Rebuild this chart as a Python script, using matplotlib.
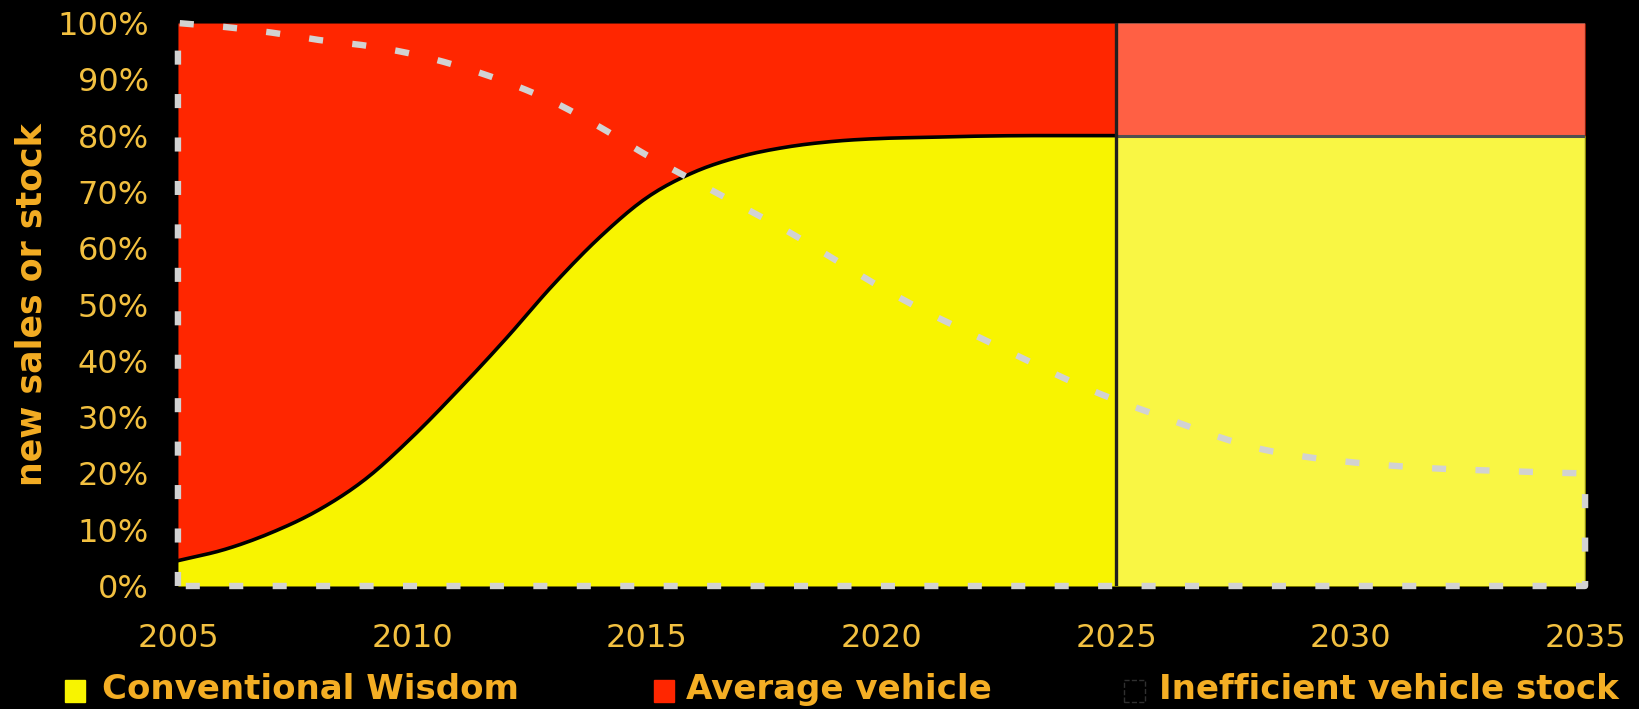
import matplotlib
matplotlib.use("Agg")
import matplotlib.pyplot as plt
from matplotlib.patches import Rectangle
import numpy as np

# Years on the horizontal axis
years = [2005, 2006, 2007, 2008, 2009, 2010, 2011, 2012, 2013, 2014, 2015,
         2016, 2017, 2018, 2019, 2020, 2021, 2022, 2023, 2024, 2025,
         2026, 2027, 2028, 2029, 2030, 2031, 2032, 2033, 2034, 2035]

# Share of new sales that follow conventional wisdom (%)
conventional = [4.5, 6.5, 9.5, 13.5, 19.0, 26.5, 35.0, 44.0, 53.5, 62.0, 69.0,
                73.5, 76.3, 78.0, 79.0, 79.5, 79.7, 79.9, 80.0, 80.0, 80.0,
                80.0, 80.0, 80.0, 80.0, 80.0, 80.0, 80.0, 80.0, 80.0, 80.0]

# Share of the fleet that is still inefficient stock (%)
inefficient = [100.0, 99.3, 98.3, 97.0, 96.0, 94.5, 92.3, 89.5, 86.0, 81.5, 76.5,
               72.0, 67.5, 63.0, 58.0, 53.0, 48.5, 44.5, 40.5, 36.5, 33.0,
               30.0, 27.0, 24.5, 23.0, 22.0, 21.3, 20.8, 20.5, 20.2, 20.0]

y_ticks = [0, 10, 20, 30, 40, 50, 60, 70, 80, 90, 100]
x_ticks = [2005, 2010, 2015, 2020, 2025, 2030, 2035]
legend_labels = ["Conventional Wisdom", "Average vehicle", "Inefficient vehicle stock"]
split_year = 2025

RED = "#FF2600"
YELLOW = "#F8F400"
GREY = "#D2D2D2"
TICK_COLOR = "#F2C040"
LABEL_COLOR = "#F4AE24"


def smooth(x, y, steps=12):
    """Catmull-Rom path through the given points (for a smoothed line)."""
    x = np.asarray(x, float)
    y = np.asarray(y, float)
    px = np.concatenate([[2 * x[0] - x[1]], x, [2 * x[-1] - x[-2]]])
    py = np.concatenate([[2 * y[0] - y[1]], y, [2 * y[-1] - y[-2]]])
    t = np.linspace(0, 1, steps, endpoint=False)[:, None]
    t2, t3 = t * t, t * t * t
    out = []
    for arr in (px, py):
        p0, p1, p2, p3 = arr[:-3], arr[1:-2], arr[2:-1], arr[3:]
        seg = 0.5 * ((2 * p1) + (-p0 + p2) * t + (2 * p0 - 5 * p1 + 4 * p2 - p3) * t2
                     + (-p0 + 3 * p1 - 3 * p2 + p3) * t3)
        out.append(np.concatenate([seg.T.ravel(), arr[-2:-1]]))
    return out[0], out[1]


yrs = np.array(years, dtype=float)
conv = np.array(conventional)
ineff = np.array(inefficient)
sx, sconv = smooth(yrs, conv)
_, sineff = smooth(yrs, ineff)
sconv = np.clip(sconv, 0, 100)

fig = plt.figure(figsize=(16.4, 7.09), dpi=100, facecolor="black")
ax = fig.add_axes([0.1085, 0.1735, 0.858, 0.794])
ax.set_facecolor("black")

# Stacked shares: conventional wisdom below, average vehicle up to 100 %
ax.fill_between(sx, 0, sconv, color=YELLOW, lw=0, zorder=1)
ax.fill_between(sx, sconv, 100, color=RED, lw=0, zorder=1)

# Lighter projection period after the split year
ax.axvspan(split_year, yrs[-1], color="white", alpha=0.27, lw=0, zorder=2)

past = sx <= split_year
fut = sx >= split_year
ax.plot(sx[past], sconv[past], color="black", lw=2.6, zorder=3)
ax.plot(sx[fut], sconv[fut], color="#505050", lw=2.2, zorder=3)
ax.plot([split_year, split_year], [0, 100], color="#202020", lw=2.4, zorder=3)
ax.plot([yrs[-1], yrs[-1]], [0, 100], color="#606060", lw=1.0, zorder=3)

# Inefficient stock outline: a closed dashed boundary without fill
outline_x = np.concatenate([[yrs[0]], sx, [yrs[-1], yrs[0]]])
outline_y = np.concatenate([[0], sineff, [0, 0]])
ax.plot(outline_x, outline_y, color=GREY, lw=4.6, dashes=(2.2, 4.6),
        solid_capstyle="butt", dash_capstyle="butt", zorder=4, clip_on=False)

ax.set_xlim(yrs[0], yrs[-1])
ax.set_ylim(0, 100)
ax.set_xticks(x_ticks)
ax.set_yticks(y_ticks)
ax.set_yticklabels([f"{v}%" for v in y_ticks])
ax.tick_params(axis="both", length=0, colors=TICK_COLOR, labelsize=23)
ax.tick_params(axis="y", pad=21)
ax.tick_params(axis="x", pad=27)
for s in ax.spines.values():
    s.set_visible(False)

fig.text(0.019, 0.57, "new sales or stock", rotation=90, ha="center", va="center",
         color=LABEL_COLOR, fontsize=25, fontweight="bold")

# Legend row along the bottom
legend_y = 0.010
swatches = [(0.0395, YELLOW), (0.3985, RED), (0.6855, "black")]
text_x = [0.062, 0.4185, 0.7065]
sw_w, sw_h = 0.0125, 0.031
for (sxp, col), tx, lab in zip(swatches, text_x, legend_labels):
    edge = "#303030" if col == "black" else col
    fig.patches.append(Rectangle((sxp, legend_y), sw_w, sw_h, transform=fig.transFigure,
                                 facecolor=col, edgecolor=edge, lw=1.0,
                                 linestyle="--" if col == "black" else "-"))
    fig.text(tx, legend_y + sw_h / 2 + 0.002, lab, ha="left", va="center",
             color=LABEL_COLOR, fontsize=24.5, fontweight="bold")

fig.savefig("out.png", dpi=100, facecolor="black")
